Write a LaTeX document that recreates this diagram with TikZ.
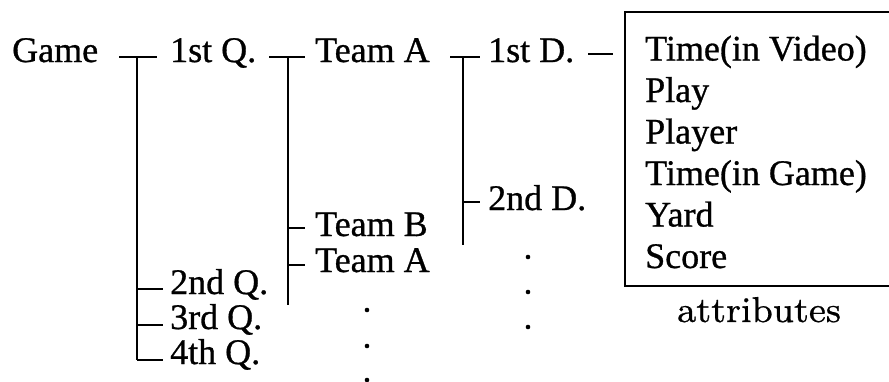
\documentclass[tikz,border=0pt]{standalone}
\usepackage{fontspec}
\newfontfamily\timesfont[FakeBold=0.8]{Liberation Serif}
\newfontfamily\attrfont[Extension=.otf,FakeBold=0.6]{lmroman8-regular}
\begin{document}
\begin{tikzpicture}[x=1pt,y=-1pt,
  lbl/.style={anchor=base west,inner sep=0pt,font=\timesfont\fontsize{36}{40}\selectfont},
  attrlbl/.style={anchor=base west,inner sep=0pt,font=\attrfont\fontsize{36}{42}\selectfont},
  conn/.style={line width=1.7pt,line cap=butt},
  dotmark/.style={circle,fill=black,inner sep=0pt,minimum size=4.6pt}]
\useasboundingbox (0,0) rectangle (889,381);
% labels
\node[lbl] (game) at (12,62) {Game};
\node[lbl] (q1) at (170,62) {1st Q.};
\node[lbl] (q2) at (170,294) {2nd Q.};
\node[lbl] (q3) at (170,329) {3rd Q.};
\node[lbl] (q4) at (170,364) {4th Q.};
\node[lbl] (ta) at (315,62) {Team A};
\node[lbl] (tb) at (315,236) {Team B};
\node[lbl] (tc) at (315,272) {Team A};
\node[lbl] (d1) at (488,62) {1st D.};
\node[lbl] (d2) at (488,210) {2nd D.};
% attribute box
\node[lbl] (a1) at (645,60.5) {Time(in Video)};
\node[lbl] (a2) at (645,102) {Play};
\node[lbl] (a3) at (645,143.5) {Player};
\node[lbl] (a4) at (645,185) {Time(in Game)};
\node[lbl] (a5) at (645,226.5) {Yard};
\node[lbl] (a6) at (645,268) {Score};
\coordinate (bxtr) at (889,12);
\coordinate (bxtl) at (625,12);
\coordinate (bxbl) at (625,286);
\coordinate (bxbr) at (889,286);
\draw[conn] (bxtr) -- (bxtl) -- (bxbl) -- (bxbr);
\node[attrlbl] (attr) at (677,322) {attributes};
% level 1 connectors
\coordinate (g0) at (119,57);
\coordinate (g1) at (157,57);
\coordinate (gt) at (137,57);
\coordinate (gb) at (137,360);
\coordinate (g2) at (163,289);
\coordinate (g3) at (163,325);
\coordinate (g4) at (163,360);
\draw[conn] (g0) -- (g1);
\draw[conn] (gt) -- (gb);
\draw[conn] (gt |- g2) -- (g2);
\draw[conn] (gt |- g3) -- (g3);
\draw[conn] (gb) -- (g4);
% level 2 connectors
\coordinate (q0) at (269,57);
\coordinate (qe) at (305,57);
\coordinate (qt) at (288,57);
\coordinate (qb) at (288,305);
\coordinate (qB) at (305,228);
\coordinate (qA) at (305,265);
\draw[conn] (q0) -- (qe);
\draw[conn] (qt) -- (qb);
\draw[conn] (qt |- qB) -- (qB);
\draw[conn] (qt |- qA) -- (qA);
% level 3 connectors
\coordinate (t0) at (450,57);
\coordinate (te) at (480,57);
\coordinate (tt) at (463,57);
\coordinate (tbm) at (463,245);
\coordinate (t2) at (480,202);
\draw[conn] (t0) -- (te);
\draw[conn] (tt) -- (tbm);
\draw[conn] (tt |- t2) -- (t2);
% dash to attributes
\coordinate (s0) at (588,54);
\coordinate (s1) at (613,54);
\draw[conn] (s0) -- (s1);
% dots
\node[dotmark] (p1) at (367,310) {};
\node[dotmark] (p2) at (367,346) {};
\node[dotmark] (p3) at (367,380) {};
\node[dotmark] (r1) at (528,257) {};
\node[dotmark] (r2) at (528,292) {};
\node[dotmark] (r3) at (528,327) {};
\end{tikzpicture}
\end{document}
